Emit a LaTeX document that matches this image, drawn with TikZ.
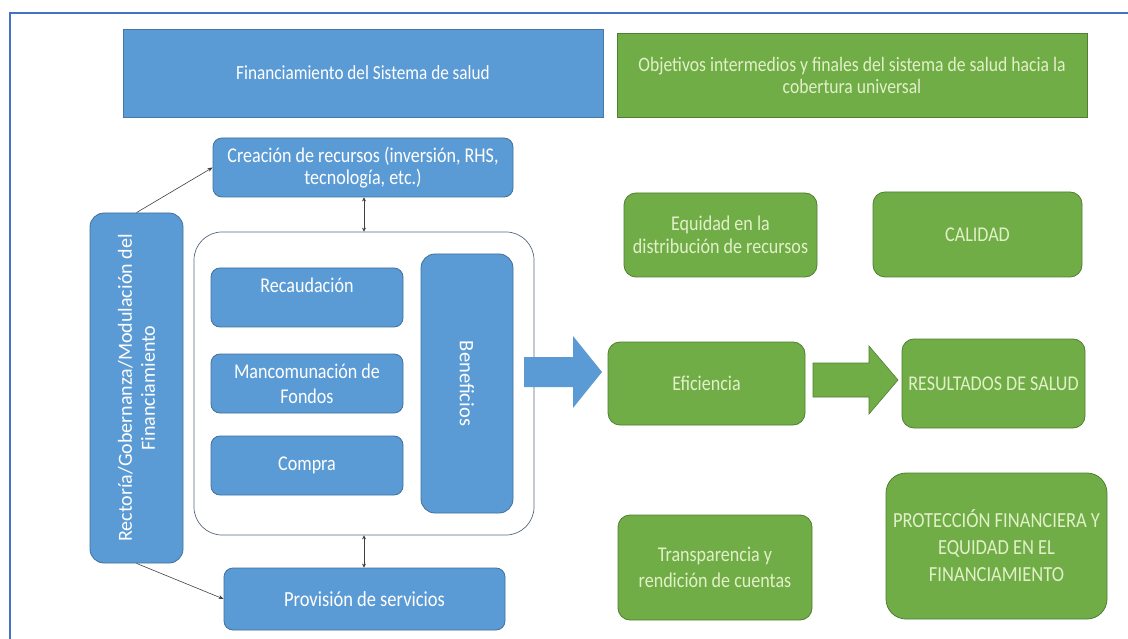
\documentclass[tikz,border=0pt]{standalone}
\usepackage{fontspec}
\setmainfont{Carlito}[FakeStretch=0.86]
\newfontfamily\uprightfont{Carlito}
\usetikzlibrary{arrows.meta,shadows}
\definecolor{bluefill}{HTML}{5B9BD5}
\definecolor{blueline}{HTML}{41719C}
\definecolor{greenfill}{HTML}{70AD47}
\definecolor{greenline}{HTML}{507E32}
\definecolor{greentext}{HTML}{E2F0C8}
\definecolor{framecol}{HTML}{4472C4}
\definecolor{linkcol}{HTML}{404040}
\definecolor{contline}{HTML}{55697D}
\newcommand{\fs}[2]{\fontsize{#1}{#2}\selectfont}
\begin{document}
\begin{tikzpicture}[x=1pt,y=-1pt,
  bluebox/.style={draw=blueline,fill=bluefill,line width=0.8pt,rounded corners=9pt,
    text=white,align=center,inner sep=1pt},
  greenbox/.style={draw=greenline,fill=greenfill,line width=0.8pt,rounded corners=12pt,
    text=greentext,align=center,inner sep=1pt},
  softshadow/.style={drop shadow={opacity=0.25,shadow xshift=1pt,shadow yshift=-1.5pt}},
  headblue/.style={fill=bluefill,draw=blueline!80!bluefill,line width=0.6pt,text=white,
    align=center,softshadow},
  headgreen/.style={fill=greenfill,draw=greenline,line width=0.8pt,text=greentext,
    align=center,softshadow},
  link/.style={draw=linkcol,line width=0.6pt,-{Stealth[length=5pt,width=4pt]}},
  twoway/.style={draw=linkcol,line width=0.6pt,{Stealth[length=4pt,width=4pt]}-{Stealth[length=4pt,width=4pt]}},
]
\useasboundingbox (0,0) rectangle (1128,639);
\fill[white] (0,0) rectangle (1128,639);
% page frame: its top and left sides
\draw[framecol,line width=2pt] (1130,13) -- (10,13) -- (10,642);

% headers
\node[headblue,minimum width=480pt,minimum height=88pt,font=\fs{20}{22}]
  (hdrL) at (363,73) {Financiamiento del Sistema de salud};
\node[headgreen,minimum width=470pt,minimum height=84pt,font=\fs{20.5}{22}]
  (hdrR) at (852,75) {Objetivos intermedios y finales del sistema de salud hacia la\\cobertura universal};

% financing side
\node[bluebox,minimum width=300pt,minimum height=59pt,font=\fs{21}{22}]
  (crea) at (363,167.5) {Creación de recursos (inversión, RHS,\\tecnología, etc.)};
\node[bluebox,rotate=90,minimum width=350pt,minimum height=93pt,rounded corners=14pt,
  font=\uprightfont\fs{20}{23}]
  (rect) at (136.5,388) {Rectoría/Gobernanza/Modulación del\\Financiamiento};
\node[draw=contline,fill=white,line width=0.7pt,rounded corners=28pt,
  minimum width=340pt,minimum height=303pt] (cont) at (364,383.5) {};
\node[bluebox,minimum width=192pt,minimum height=59pt,font=\fs{21}{22},
  text height=12pt,text depth=21pt]
  (reca) at (307,297.5) {Recaudación};
\node[bluebox,minimum width=192pt,minimum height=59pt,font=\fs{21}{25}]
  (manc) at (307,383.5) {Mancomunación de\\Fondos};
\node[bluebox,minimum width=192pt,minimum height=59pt,font=\fs{21}{22}]
  (comp) at (307,465.5) {Compra};
\node[bluebox,rotate=-90,minimum width=259pt,minimum height=92pt,rounded corners=14pt,
  font=\uprightfont\fs{20.5}{22}]
  (bene) at (467,383.5) {Beneficios};
\node[bluebox,minimum width=281pt,minimum height=62pt,font=\fs{21.5}{22}]
  (prov) at (364.5,599) {Provisión de servicios};

% objectives side
\node[greenbox,minimum width=193pt,minimum height=84pt,font=\fs{21}{23}]
  (equi) at (720.5,235) {Equidad en la\\distribución de recursos};
\node[greenbox,minimum width=209pt,minimum height=85pt,font=\fs{21}{22}]
  (cali) at (977.5,234.5) {CALIDAD};
\node[greenbox,minimum width=197pt,minimum height=83pt,font=\fs{21}{22}]
  (efic) at (706.5,383.5) {Eficiencia};
\node[greenbox,minimum width=183pt,minimum height=89pt,font=\fs{21}{22}]
  (resu) at (993.5,383.5) {RESULTADOS DE SALUD};
\node[greenbox,minimum width=194pt,minimum height=105pt,font=\fs{21}{26}]
  (tran) at (715,567.5) {Transparencia y\\rendición de cuentas};
\node[greenbox,minimum width=221pt,minimum height=146pt,rounded corners=20pt,
  font=\fs{21.5}{27}]
  (prot) at (996.5,546) {PROTECCIÓN FINANCIERA Y\\EQUIDAD EN EL\\FINANCIAMIENTO};

% thin connectors
\draw[twoway] (crea.south -| cont.north) -- (cont.north);
\draw[twoway] (cont.south) -- (prov.north -| cont.south);
\draw[link] (rect.east) -- (crea.west);
\draw[link] (rect.west) -- (prov.west);

% block arrows
\fill[bluefill] (524,357) -- (573,357) -- (573,336) -- (602,372) -- (573,408)
  -- (573,387) -- (524,387) -- cycle;
\path[draw=greenline,fill=greenfill,line width=0.6pt] (813,363) -- (869,363) -- (869,346)
  -- (898,380) -- (869,414) -- (869,397) -- (813,397) -- cycle;
\end{tikzpicture}
\end{document}
